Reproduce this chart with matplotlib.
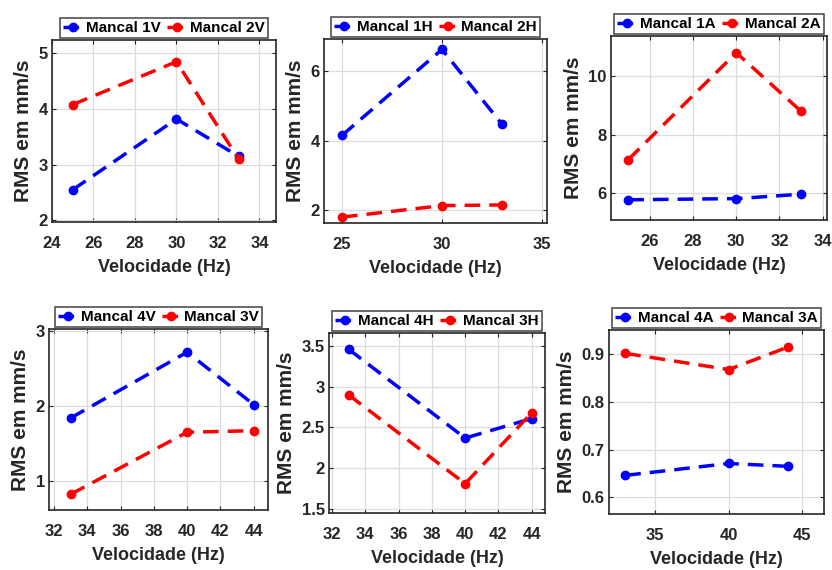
import matplotlib
matplotlib.use("Agg")
import matplotlib.pyplot as plt

plt.rcParams['font.family'] = ['Liberation Sans', 'DejaVu Sans']
plt.rcParams['font.weight'] = 'bold'
plt.rcParams['axes.labelweight'] = 'bold'

W, H = 832, 570

# velocities per row
vel_top = [25, 30, 33]
vel_bot = [33, 40, 44]

# top row
m1v = [2.55, 3.82, 3.15]
m2v = [4.08, 4.85, 3.10]
m1h = [4.15, 6.62, 4.47]
m2h = [1.80, 2.13, 2.15]
m1a = [5.78, 5.82, 5.97]
m2a = [7.15, 10.80, 8.80]
# bottom row
m4v = [1.84, 2.72, 2.02]
m3v = [0.82, 1.65, 1.67]
m4h = [3.46, 2.37, 2.61]
m3h = [2.90, 1.81, 2.68]
m4a = [0.646, 0.671, 0.665]
m3a = [0.902, 0.868, 0.915]

panels = [
    # pixel box (left, top, right, bottom), x, blue, red, labels, xlim, ylim, xticks, yticks
    ((52, 40, 276, 222), vel_top, m1v, m2v, ('Mancal 1V', 'Mancal 2V'),
     (24, 34.8), (1.97, 5.24), [24, 26, 28, 30, 32, 34], [2, 3, 4, 5]),
    ((324, 39, 547, 223), vel_top, m1h, m2h, ('Mancal 1H', 'Mancal 2H'),
     (24.1, 35.25), (1.63, 6.92), [25, 30, 35], [2, 4, 6]),
    ((611, 36, 827, 220), vel_top, m1a, m2a, ('Mancal 1A', 'Mancal 2A'),
     (24.2, 34.2), (5.09, 11.37), [26, 28, 30, 32, 34], [6, 8, 10]),
    ((49, 329, 268, 510), vel_bot, m4v, m3v, ('Mancal 4V', 'Mancal 3V'),
     (31.7, 44.86), (0.61, 3.03), [32, 34, 36, 38, 40, 42, 44], [1, 2, 3]),
    ((329, 333, 545, 513), vel_bot, m4h, m3h, ('Mancal 4H', 'Mancal 3H'),
     (31.82, 44.8), (1.45, 3.66), [32, 34, 36, 38, 40, 42, 44], [1.5, 2, 2.5, 3, 3.5]),
    ((609, 330, 824, 514), vel_bot, m4a, m3a, ('Mancal 4A', 'Mancal 3A'),
     (31.9, 46.46), (0.565, 0.951), [35, 40, 45], [0.6, 0.7, 0.8, 0.9]),
]

fig = plt.figure(figsize=(W / 100, H / 100), dpi=100)

for (l, t, r, b), x, blue, red, labels, xlim, ylim, xt, yt in panels:
    ax = fig.add_axes([l / W, 1 - b / H, (r - l) / W, (b - t) / H])
    ax.plot(x, blue, color='#0000ff', ls=(0, (4.5, 2.6)), lw=2.5, marker='o', ms=6, label=labels[0])
    ax.plot(x, red, color='#ff0000', ls=(0, (4.5, 2.6)), lw=2.5, marker='o', ms=6, label=labels[1])
    ax.set_xlim(xlim)
    ax.set_ylim(ylim)
    ax.set_xticks(xt)
    ax.set_yticks(yt)
    ax.set_yticklabels([('%g' % v) for v in yt])
    ax.grid(True, color='#dcdcdc', lw=0.9)
    ax.tick_params(labelsize=12, colors='#262626', direction='in', length=3,
                   top=True, right=True)
    ax.tick_params(axis='x', pad=10)
    ax.tick_params(axis='y', pad=3)
    for s in ax.spines.values():
        s.set_color('#262626')
        s.set_linewidth(1.2)
    ax.set_xlabel('Velocidade (Hz)', fontsize=13, color='#262626', labelpad=6)
    ax.set_ylabel('RMS em mm/s', fontsize=15, color='#262626', labelpad=4)
    leg = ax.legend(loc='lower center', bbox_to_anchor=(0.5, 1.0), ncol=2, fontsize=11,
                    frameon=True, fancybox=False, edgecolor='#262626', handlelength=1.3,
                    columnspacing=0.4, handletextpad=0.2, borderpad=0.2, borderaxespad=0.1)
    leg.get_frame().set_linewidth(1.2)

fig.savefig('out.png', dpi=100)
